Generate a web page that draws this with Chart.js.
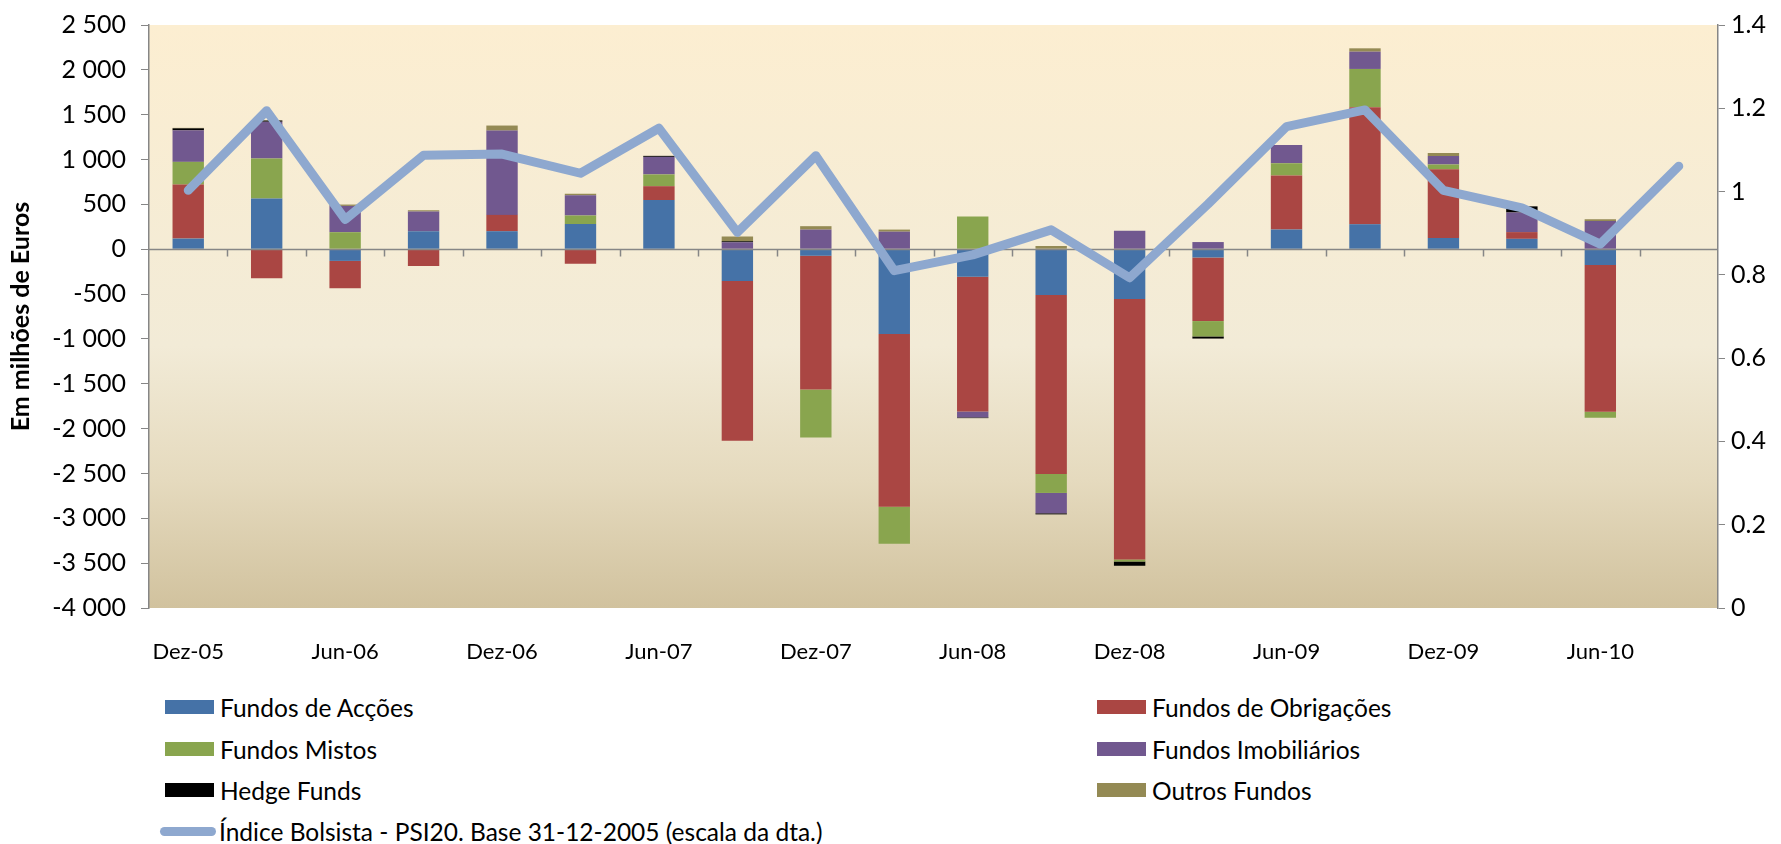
<!DOCTYPE html>
<html>
<head>
<meta charset="utf-8">
<script src="https://cdn.jsdelivr.net/npm/chart.js@4"></script>
<style>
    body { margin: 0; background: #fff; font-family: Lato, sans-serif; }
    .wrap { position: relative; width: 1781px; height: 844px; overflow: hidden; }
    .chart-box { position: absolute; left: 0; top: 0; width: 1781px; height: 690px; }
    .legend-item { position: absolute; display: flex; align-items: center; font-size: 24.5px; color: #000; white-space: nowrap; }
    .legend-item .sw { width: 49px; height: 14px; margin-right: 6px; }
    .legend-item .ln { width: 56px; height: 9px; border-radius: 5px; margin-right: 3px; }
</style>
</head>
<body>
<div class="wrap">
    <div class="chart-box"><canvas id="fund-chart"></canvas></div>
    <div id="legend"></div>
</div>
<script>
// quarters (labels shown every second quarter)
const quarters = ['Dez-05', 'Mar-06', 'Jun-06', 'Set-06', 'Dez-06', 'Mar-07', 'Jun-07', 'Set-07', 'Dez-07', 'Mar-08',
    'Jun-08', 'Set-08', 'Dez-08', 'Mar-09', 'Jun-09', 'Set-09', 'Dez-09', 'Mar-10', 'Jun-10', 'Set-10'];

// net subscriptions, millions of euros
const fundosAccoes = [119, 565, -130, 201, 201, 280, 549, -353, -73, -945, -307, -510, -554, -92, 219, 279, 124, 116, -175, null];
const fundosObrigacoes = [602, -323, -305, -186, 182, -161, 154, -1783, -1491, -1925, -1502, -1996, -2904, -709, 602, 1303, 768, 75, -1638, null];
const fundosMistos = [253, 446, 190, 0, 0, 96, 131, 0, -534, -415, 365, -211, -24, -171, 139, 428, 52, 0, -67, null];
const fundosImobiliarios = [352, 409, 293, 219, 940, 227, 196, 77, 219, 196, -66, -227, 207, 80, 203, 193, 96, 219, 315, null];
const hedgeFunds = [22, 15, 0, 0, 0, 0, 11, 11, 0, 0, -8, -12, -48, -24, 0, 0, 0, 68, 0, null];
const outrosFundos = [5, 3, 15, 15, 56, 15, 0, 54, 38, 23, 0, 36, 0, 0, 0, 37, 32, 0, 20, null];

// PSI20 index, base 31-12-2005 = 1
const psi20 = [1.003, 1.194, 0.933, 1.087, 1.090, 1.044, 1.152, 0.902, 1.086, 0.810,
    0.848, 0.908, 0.793, 0.97, 1.156, 1.196, 1.003, 0.961, 0.874, 1.061];

const leftTicks = { min: -4000, max: 2500, step: 500 };
const rightTicks = { min: 0, max: 1.4, step: 0.2 };

const barSeries = [
    { label: 'Fundos de Acções', data: fundosAccoes, color: '#4572A7' },
    { label: 'Fundos de Obrigações', data: fundosObrigacoes, color: '#AA4643' },
    { label: 'Fundos Mistos', data: fundosMistos, color: '#89A54E' },
    { label: 'Fundos Imobiliários', data: fundosImobiliarios, color: '#71588F' },
    { label: 'Hedge Funds', data: hedgeFunds, color: '#000000' },
    { label: 'Outros Fundos', data: outrosFundos, color: '#948A54' }
];
const lineLabel = 'Índice Bolsista - PSI20. Base 31-12-2005 (escala da dta.)';
const lineColor = '#8EA8CF';
const axisGrey = '#868686';

const fmtThousands = v => {
    const s = String(Math.abs(v)).replace(/\B(?=(\d{3})+(?!\d))/g, ' ');
    return (v < 0 ? '-' : '') + s;
};

// plot background gradient
const plotBackground = {
    id: 'plotBackground',
    beforeDraw(chart) {
        const { ctx, chartArea: a } = chart;
        const g = ctx.createLinearGradient(0, a.top, 0, a.bottom);
        g.addColorStop(0, '#FCEED1');
        g.addColorStop(0.55, '#F2EBD7');
        g.addColorStop(0.78, '#E5DABE');
        g.addColorStop(1, '#D1C29E');
        ctx.save();
        ctx.fillStyle = g;
        ctx.fillRect(a.left, a.top, a.right - a.left, a.bottom - a.top);
        ctx.restore();
    }
};

// horizontal axis crossing at zero, drawn under the index line
const zeroAxis = {
    id: 'zeroAxis',
    beforeDatasetDraw(chart, args) {
        if (chart.data.datasets[args.index].type !== 'line') return;
        const { ctx, chartArea: a, scales } = chart;
        const y0 = Math.round(scales.y.getPixelForValue(0)) + 0.5;
        ctx.save();
        ctx.strokeStyle = axisGrey;
        ctx.lineWidth = 1.5;
        ctx.beginPath();
        ctx.moveTo(a.left, y0);
        ctx.lineTo(a.right, y0);
        const n = quarters.length;
        const w = (a.right - a.left) / n;
        for (let i = 1; i < n; i++) {
            const x = Math.round(a.left + i * w) + 0.5;
            ctx.moveTo(x, y0);
            ctx.lineTo(x, y0 + 7);
        }
        ctx.stroke();
        ctx.restore();
    }
};

// fixed axis box sizes so the plot area sits where it does in the original
const fixLeft = s => { s.width = 149; s.paddingTop = 0; s.paddingBottom = 0; };
const fixRight = s => { s.width = 63; s.paddingTop = 0; s.paddingBottom = 0; };

document.addEventListener('DOMContentLoaded', () => {
    const ctx = document.getElementById('fund-chart');
    const datasets = barSeries.map(s => ({
        type: 'bar',
        label: s.label,
        data: s.data,
        backgroundColor: s.color,
        borderWidth: 0,
        yAxisID: 'y',
        order: 1,
        barPercentage: 0.4,
        categoryPercentage: 1
    }));
    datasets.push({
        type: 'line',
        label: lineLabel,
        data: psi20,
        borderColor: lineColor,
        borderWidth: 9,
        borderCapStyle: 'round',
        borderJoinStyle: 'round',
        pointRadius: 0,
        tension: 0,
        yAxisID: 'y1',
        order: 0
    });

    new Chart(ctx, {
        type: 'bar',
        data: { labels: quarters, datasets },
        plugins: [plotBackground, zeroAxis],
        options: {
            responsive: true,
            maintainAspectRatio: false,
            animation: false,
            layout: { padding: { top: 25, left: 0, right: 0, bottom: 0 } },
            plugins: {
                legend: { display: false },
                tooltip: { enabled: false }
            },
            scales: {
                x: {
                    stacked: true,
                    grid: { display: false },
                    border: { display: false },
                    ticks: {
                        autoSkip: false,
                        maxRotation: 0,
                        padding: 23,
                        color: '#000',
                        font: { family: 'Lato', size: 22 },
                        callback: (v, i) => (i % 2 === 0 ? quarters[i] : '')
                    },
                    afterFit: s => { s.height = 82; }
                },
                y: {
                    stacked: true,
                    position: 'left',
                    min: leftTicks.min,
                    max: leftTicks.max,
                    border: { display: true, color: axisGrey, width: 1.5 },
                    grid: { drawOnChartArea: false, drawTicks: true, tickLength: 8, color: axisGrey },
                    ticks: {
                        stepSize: leftTicks.step,
                        padding: 15,
                        color: '#000',
                        font: { family: 'Lato', size: 25 },
                        callback: v => fmtThousands(v)
                    },
                    title: {
                        display: true,
                        text: 'Em milhões de Euros',
                        color: '#000',
                        font: { family: 'Lato', size: 25, weight: 'bold' },
                        padding: { top: 6, bottom: 0 }
                    },
                    afterFit: fixLeft
                },
                y1: {
                    position: 'right',
                    min: rightTicks.min,
                    max: rightTicks.max,
                    border: { display: true, color: axisGrey, width: 1.5 },
                    grid: { drawOnChartArea: false, drawTicks: true, tickLength: 7, color: axisGrey },
                    ticks: {
                        stepSize: rightTicks.step,
                        padding: 6,
                        color: '#000',
                        font: { family: 'Lato', size: 25 },
                        callback: v => String(Math.round(v * 10) / 10)
                    },
                    afterFit: fixRight
                }
            }
        }
    });

    // legend: two columns, index line on its own row
    const legend = document.getElementById('legend');
    const rowsY = [707, 749, 790, 831];
    barSeries.forEach((s, i) => {
        const item = document.createElement('div');
        item.className = 'legend-item';
        item.style.left = (i % 2 === 0 ? 165 : 1097) + 'px';
        item.style.top = (rowsY[Math.floor(i / 2)] - 15) + 'px';
        item.style.height = '30px';
        item.innerHTML = `<span class="sw" style="background:${s.color}"></span>${s.label}`;
        legend.appendChild(item);
    });
    const lineItem = document.createElement('div');
    lineItem.className = 'legend-item';
    lineItem.style.left = '160px';
    lineItem.style.top = (rowsY[3] - 15) + 'px';
    lineItem.style.height = '30px';
    lineItem.innerHTML = `<span class="ln" style="background:${lineColor}"></span>${lineLabel}`;
    legend.appendChild(lineItem);
});
</script>
</body>
</html>
